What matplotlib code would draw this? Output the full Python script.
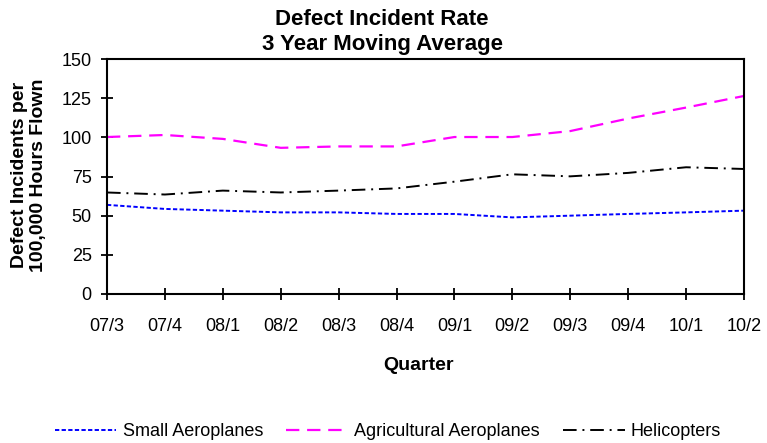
import matplotlib.pyplot as plt

plt.rcParams['font.family'] = ['Liberation Sans', 'DejaVu Sans']

quarters = ["07/3", "07/4", "08/1", "08/2", "08/3", "08/4",
            "09/1", "09/2", "09/3", "09/4", "10/1", "10/2"]
small = [56.9, 54.3, 53.2, 52.1, 52.1, 51.1, 51.1, 48.9, 50.0, 51.1, 52.1, 53.2]
agri = [100.2, 101.5, 99.0, 93.3, 94.2, 94.2, 100.2, 100.2, 104.0, 112.0, 119.0, 126.4]
heli = [64.8, 63.5, 66.0, 64.8, 66.0, 67.4, 71.7, 76.4, 75.1, 77.3, 80.9, 79.8]

W, H = 767, 443
fig = plt.figure(figsize=(W / 100, H / 100), dpi=100)
ax = fig.add_axes([107 / W, 1 - 294 / H, 637 / W, 235 / H])

x = range(len(quarters))
ax.plot(x, small, color="blue", lw=1.4, ls=(0, (2.2, 1.2)), label="Small Aeroplanes")
ax.plot(x, agri, color="magenta", lw=1.6, ls=(0, (6, 3.5)), label="Agricultural Aeroplanes")
ax.plot(x, heli, color="black", lw=1.4, ls=(0, (7, 3, 1, 3)), label="Helicopters")

ax.set_xlim(0, len(quarters) - 1)
ax.set_ylim(0, 150)
ax.set_xticks(list(x))
ax.set_xticklabels(quarters)
ax.set_yticks(range(0, 151, 25))
ax.tick_params(direction="inout", length=8, width=1.3, labelsize=13)
ax.tick_params(axis="x", pad=13)
ax.tick_params(axis="y", pad=7)
for s in ax.spines.values():
    s.set_linewidth(1.5)

fig.text(418 / W, 1 - 366 / H, "Quarter", fontsize=14, fontweight="bold",
         ha="center", va="center")
fig.text(29 / W, 1 - 175 / H, "Defect Incidents per\n100,000 Hours Flown",
         fontsize=14, fontweight="bold", rotation=90, ha="center", va="center",
         linespacing=1.2)
fig.text(382 / W, 1 - 32 / H, "Defect Incident Rate\n3 Year Moving Average",
         fontsize=16, fontweight="bold", ha="center", va="center", linespacing=1.3)

fig.legend(loc="center", ncol=3, frameon=False, fontsize=13,
           bbox_to_anchor=(388 / W, 1 - 432 / H), handlelength=3.4,
           handletextpad=0.35, columnspacing=1.3)

fig.savefig("out.png", dpi=100)
